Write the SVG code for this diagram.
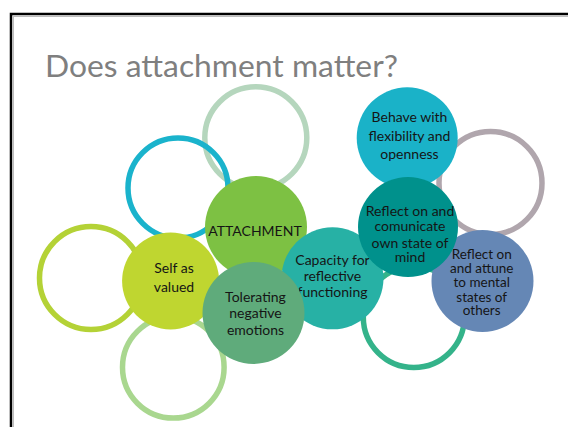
<svg xmlns="http://www.w3.org/2000/svg" width="568" height="427" viewBox="0 0 568 427">
<style>
.ring{fill:none;stroke-width:5.5}
.lbl{font-family:Lato,"Open Sans","Liberation Sans",sans-serif;font-size:14px;fill:#151515;text-anchor:middle}
.sm{font-size:13.5px}
.title{font-family:Lato,"Open Sans","Liberation Sans",sans-serif;font-size:31px;fill:#7f7f7f}
</style>
<rect x="0" y="0" width="568" height="427" fill="#ffffff"/>
<rect x="11" y="14" width="600" height="450" fill="none" stroke="#000" stroke-width="2.5"/>
<rect x="13.5" y="16.5" width="600" height="450" fill="none" stroke="#bdbdbd" stroke-width="1"/>
<text class="title" x="45" y="77" textLength="353" lengthAdjust="spacingAndGlyphs">Does attachment matter?</text>
<g id="rings">
<circle cx="255.8" cy="137.8" r="51" class="ring" stroke="#b5d6bd"/>
<circle cx="178" cy="188" r="50" class="ring" stroke="#1ab3cc"/>
<circle cx="91" cy="278" r="51.5" class="ring" stroke="#b4d236"/>
<circle cx="173.3" cy="367.3" r="50.8" class="ring" stroke="#a9d78f"/>
<circle cx="490.5" cy="183" r="51.5" class="ring" stroke="#b0a6ad"/>
<circle cx="413.8" cy="317" r="50.5" class="ring" stroke="#34b38a"/>
</g>
<g id="self"><circle cx="170.6" cy="281" r="48.5" fill="#bfd630"/>
<text class="lbl" x="174" y="273.3">Self as</text><text class="lbl" x="174" y="291.7">valued</text></g>
<g id="attachment"><circle cx="256" cy="227" r="51" fill="#7dc143"/>
<text class="lbl" x="255" y="236">ATTACHMENT</text></g>
<g id="capacity"><circle cx="332.5" cy="278.3" r="51" fill="#27b1a5"/>
<text class="lbl" x="332.5" y="265">Capacity for</text><text class="lbl" x="332.5" y="281">reflective</text><text class="lbl" x="332.5" y="296.7">functioning</text></g>
<g id="tolerating"><circle cx="253.5" cy="313" r="51" fill="#5fab7b"/>
<text class="lbl" x="255.5" y="301.7">Tolerating</text><text class="lbl" x="255.5" y="318.3">negative</text><text class="lbl" x="255.5" y="335">emotions</text></g>
<g id="behave"><circle cx="407.2" cy="137.8" r="50.5" fill="#1ab2c8"/>
<text class="lbl" x="409.5" y="121.7">Behave with</text><text class="lbl" x="409.5" y="140.7">flexibility and</text><text class="lbl" x="409.5" y="159.3">openness</text></g>
<g id="attune"><circle cx="482.5" cy="281" r="51" fill="#6587b5"/>
<text class="lbl sm" x="481.7" y="259.3">Reflect on</text><text class="lbl sm" x="481.7" y="273.3">and attune</text><text class="lbl sm" x="481.7" y="287.3">to mental</text><text class="lbl sm" x="481.7" y="301.7">states of</text><text class="lbl sm" x="481.7" y="315">others</text></g>
<g id="communicate"><circle cx="408" cy="227" r="50" fill="#00918c"/>
<text class="lbl" x="410" y="215.7">Reflect on and</text><text class="lbl" x="410" y="230.7">comunicate</text><text class="lbl" x="410" y="247.7">own state of</text><text class="lbl" x="410" y="262.3">mind</text></g>
</svg>
